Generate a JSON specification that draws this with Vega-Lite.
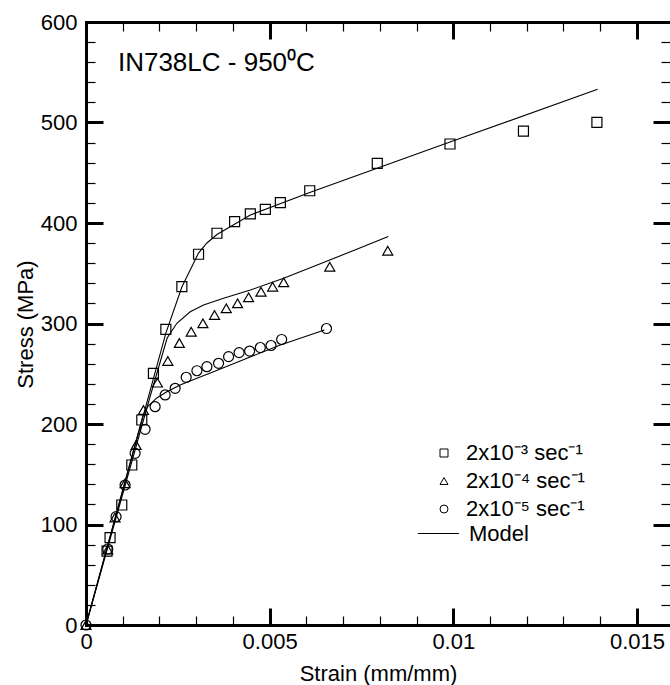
{
  "$schema": "https://vega.github.io/schema/vega-lite/v6.json",
  "width": 584,
  "height": 603,
  "autosize": {"type": "none"},
  "padding": {"left": 86, "top": 22, "right": 0, "bottom": 60},
  "background": "white",
  "config": {
    "view": {"stroke": null},
    "font": "Liberation Sans",
    "axis": {
      "grid": false,
      "domainColor": "black",
      "domainWidth": 3,
      "domainCap": "square",
      "tickColor": "black",
      "labelColor": "black",
      "titleColor": "black",
      "labelFont": "Liberation Sans",
      "labelFontSize": 22,
      "titleFont": "Liberation Sans",
      "titleFontSize": 22,
      "titleFontWeight": "normal",
      "labelFlush": false,
      "labelOverlap": false,
      "tickCount": 1000
    },
    "legend": {
      "labelFont": "Liberation Sans",
      "labelFontSize": 22,
      "labelColor": "black",
      "labelLimit": 0,
      "padding": 0,
      "rowPadding": 6
    }
  },
  "datasets": {
    "pts": [
      {"rate": "2x10⁻³ sec⁻¹", "strain": 0.000573, "stress": 73.6},
      {"rate": "2x10⁻³ sec⁻¹", "strain": 0.000655, "stress": 86.9},
      {"rate": "2x10⁻³ sec⁻¹", "strain": 0.000974, "stress": 119.4},
      {"rate": "2x10⁻³ sec⁻¹", "strain": 0.001247, "stress": 159.2},
      {"rate": "2x10⁻³ sec⁻¹", "strain": 0.001519, "stress": 204.0},
      {"rate": "2x10⁻³ sec⁻¹", "strain": 0.001836, "stress": 250.4},
      {"rate": "2x10⁻³ sec⁻¹", "strain": 0.002174, "stress": 294.2},
      {"rate": "2x10⁻³ sec⁻¹", "strain": 0.00261, "stress": 336.6},
      {"rate": "2x10⁻³ sec⁻¹", "strain": 0.003064, "stress": 368.9},
      {"rate": "2x10⁻³ sec⁻¹", "strain": 0.003565, "stress": 389.8},
      {"rate": "2x10⁻³ sec⁻¹", "strain": 0.004046, "stress": 401.3},
      {"rate": "2x10⁻³ sec⁻¹", "strain": 0.004474, "stress": 409.0},
      {"rate": "2x10⁻³ sec⁻¹", "strain": 0.004883, "stress": 413.6},
      {"rate": "2x10⁻³ sec⁻¹", "strain": 0.005292, "stress": 420.2},
      {"rate": "2x10⁻³ sec⁻¹", "strain": 0.006091, "stress": 432.1},
      {"rate": "2x10⁻³ sec⁻¹", "strain": 0.00793, "stress": 459.4},
      {"rate": "2x10⁻³ sec⁻¹", "strain": 0.00991, "stress": 478.6},
      {"rate": "2x10⁻³ sec⁻¹", "strain": 0.01191, "stress": 491.5},
      {"rate": "2x10⁻³ sec⁻¹", "strain": 0.01391, "stress": 500.2},
      {"rate": "2x10⁻⁴ sec⁻¹", "strain": 0, "stress": 0},
      {"rate": "2x10⁻⁴ sec⁻¹", "strain": 0.000592, "stress": 75.1},
      {"rate": "2x10⁻⁴ sec⁻¹", "strain": 0.000791, "stress": 107.0},
      {"rate": "2x10⁻⁴ sec⁻¹", "strain": 0.001064, "stress": 141.0},
      {"rate": "2x10⁻⁴ sec⁻¹", "strain": 0.001364, "stress": 179.1},
      {"rate": "2x10⁻⁴ sec⁻¹", "strain": 0.001563, "stress": 213.9},
      {"rate": "2x10⁻⁴ sec⁻¹", "strain": 0.001945, "stress": 241.1},
      {"rate": "2x10⁻⁴ sec⁻¹", "strain": 0.002229, "stress": 262.7},
      {"rate": "2x10⁻⁴ sec⁻¹", "strain": 0.002542, "stress": 280.6},
      {"rate": "2x10⁻⁴ sec⁻¹", "strain": 0.002864, "stress": 291.8},
      {"rate": "2x10⁻⁴ sec⁻¹", "strain": 0.003183, "stress": 300.2},
      {"rate": "2x10⁻⁴ sec⁻¹", "strain": 0.0035, "stress": 308.5},
      {"rate": "2x10⁻⁴ sec⁻¹", "strain": 0.003819, "stress": 315.1},
      {"rate": "2x10⁻⁴ sec⁻¹", "strain": 0.004127, "stress": 320.1},
      {"rate": "2x10⁻⁴ sec⁻¹", "strain": 0.004427, "stress": 326.1},
      {"rate": "2x10⁻⁴ sec⁻¹", "strain": 0.004765, "stress": 331.6},
      {"rate": "2x10⁻⁴ sec⁻¹", "strain": 0.005082, "stress": 336.6},
      {"rate": "2x10⁻⁴ sec⁻¹", "strain": 0.005382, "stress": 341.0},
      {"rate": "2x10⁻⁴ sec⁻¹", "strain": 0.006637, "stress": 356.5},
      {"rate": "2x10⁻⁴ sec⁻¹", "strain": 0.008216, "stress": 372.4},
      {"rate": "2x10⁻⁵ sec⁻¹", "strain": 0, "stress": 0},
      {"rate": "2x10⁻⁵ sec⁻¹", "strain": 0.000592, "stress": 75.6},
      {"rate": "2x10⁻⁵ sec⁻¹", "strain": 0.000818, "stress": 107.8},
      {"rate": "2x10⁻⁵ sec⁻¹", "strain": 0.001064, "stress": 139.3},
      {"rate": "2x10⁻⁵ sec⁻¹", "strain": 0.001337, "stress": 170.8},
      {"rate": "2x10⁻⁵ sec⁻¹", "strain": 0.001609, "stress": 194.7},
      {"rate": "2x10⁻⁵ sec⁻¹", "strain": 0.001882, "stress": 217.2},
      {"rate": "2x10⁻⁵ sec⁻¹", "strain": 0.002155, "stress": 228.9},
      {"rate": "2x10⁻⁵ sec⁻¹", "strain": 0.002428, "stress": 235.5},
      {"rate": "2x10⁻⁵ sec⁻¹", "strain": 0.002728, "stress": 246.5},
      {"rate": "2x10⁻⁵ sec⁻¹", "strain": 0.00302, "stress": 253.0},
      {"rate": "2x10⁻⁵ sec⁻¹", "strain": 0.003292, "stress": 257.0},
      {"rate": "2x10⁻⁵ sec⁻¹", "strain": 0.003609, "stress": 260.4},
      {"rate": "2x10⁻⁵ sec⁻¹", "strain": 0.003882, "stress": 267.0},
      {"rate": "2x10⁻⁵ sec⁻¹", "strain": 0.004168, "stress": 271.0},
      {"rate": "2x10⁻⁵ sec⁻¹", "strain": 0.004455, "stress": 272.6},
      {"rate": "2x10⁻⁵ sec⁻¹", "strain": 0.004746, "stress": 276.1},
      {"rate": "2x10⁻⁵ sec⁻¹", "strain": 0.005038, "stress": 278.1},
      {"rate": "2x10⁻⁵ sec⁻¹", "strain": 0.005327, "stress": 284.1},
      {"rate": "2x10⁻⁵ sec⁻¹", "strain": 0.006547, "stress": 295.0}
    ],
    "model": [
      {"curve": "m3", "strain": 0, "stress": 0},
      {"curve": "m3", "strain": 0.002174, "stress": 290.5},
      {"curve": "m3", "strain": 0.00261, "stress": 336.3},
      {"curve": "m3", "strain": 0.003063, "stress": 370.1},
      {"curve": "m3", "strain": 0.003292, "stress": 380.1},
      {"curve": "m3", "strain": 0.003565, "stress": 388.6},
      {"curve": "m3", "strain": 0.004474, "stress": 408.0},
      {"curve": "m3", "strain": 0.00611, "stress": 430.5},
      {"curve": "m3", "strain": 0.00991, "stress": 480.5},
      {"curve": "m3", "strain": 0.01393, "stress": 533.0},
      {"curve": "m4", "strain": 0, "stress": 0},
      {"curve": "m4", "strain": 0.001718, "stress": 223.9},
      {"curve": "m4", "strain": 0.002019, "stress": 261.7},
      {"curve": "m4", "strain": 0.00221, "stress": 285.6},
      {"curve": "m4", "strain": 0.002474, "stress": 300.2},
      {"curve": "m4", "strain": 0.002837, "stress": 311.7},
      {"curve": "m4", "strain": 0.0032, "stress": 318.4},
      {"curve": "m4", "strain": 0.003745, "stress": 325.1},
      {"curve": "m4", "strain": 0.004474, "stress": 333.3},
      {"curve": "m4", "strain": 0.005382, "stress": 345.0},
      {"curve": "m4", "strain": 0.006293, "stress": 358.2},
      {"curve": "m4", "strain": 0.007201, "stress": 371.4},
      {"curve": "m4", "strain": 0.00823, "stress": 386.6},
      {"curve": "m5", "strain": 0, "stress": 0},
      {"curve": "m5", "strain": 0.001555, "stress": 209.0},
      {"curve": "m5", "strain": 0.001691, "stress": 217.9},
      {"curve": "m5", "strain": 0.001929, "stress": 225.9},
      {"curve": "m5", "strain": 0.002201, "stress": 232.1},
      {"curve": "m5", "strain": 0.002564, "stress": 238.8},
      {"curve": "m5", "strain": 0.00302, "stress": 245.5},
      {"curve": "m5", "strain": 0.003472, "stress": 252.0},
      {"curve": "m5", "strain": 0.004384, "stress": 265.4},
      {"curve": "m5", "strain": 0.005292, "stress": 278.6},
      {"curve": "m5", "strain": 0.006492, "stress": 293.5}
    ],
    "label": [
      {"text": "IN738LC - 950⁰C"}
    ]
  },
  "layer": [
    {
      "layer": [
        {
          "data": {"name": "model"},
          "mark": {"type": "line", "strokeWidth": 1.1},
          "encoding": {
            "x": {
              "field": "strain", "type": "quantitative",
              "scale": {"domain": [0, 0.0159], "nice": false, "zero": false},
              "axis": {
                "orient": "bottom",
                "values": [0, 0.005, 0.01, 0.015],
                "labelExpr": "toString(datum.value)",
                "ticks": false,
                "labelPadding": 6,
                "title": "Strain (mm/mm)",
                "titleY": 55,
                "titleBaseline": "alphabetic"
              }
            },
            "y": {
              "field": "stress", "type": "quantitative",
              "scale": {"domain": [0, 600], "nice": false, "zero": false},
              "axis": {
                "orient": "left",
                "values": [0, 100, 200, 300, 400, 500, 600],
                "labelExpr": "toString(datum.value)",
                "ticks": false,
                "labelPadding": 9,
                "title": "Stress (MPa)",
                "titleX": -54,
                "titleY": 302,
                "titleAngle": -90,
                "titleAlign": "center",
                "titleBaseline": "alphabetic"
              }
            },
            "detail": {"field": "curve"},
            "color": {
              "datum": "Model", "type": "nominal",
              "scale": {"domain": ["Model"], "range": ["black"]},
              "legend": {
                "orient": "none",
                "legendX": 331,
                "legendY": 490,
                "title": null,
                "symbolType": "stroke",
                "symbolSize": 1700,
                "symbolStrokeWidth": 1,
                "symbolStrokeColor": "black",
                "labelOffset": 9
              }
            }
          }
        },
        {
          "data": {"name": "pts"},
          "mark": {"type": "point", "filled": false, "stroke": "black", "strokeWidth": 1.2, "size": 100, "opacity": 1},
          "encoding": {
            "x": {"field": "strain", "type": "quantitative"},
            "y": {"field": "stress", "type": "quantitative"},
            "shape": {
              "field": "rate", "type": "nominal",
              "scale": {
                "domain": ["2x10⁻³ sec⁻¹", "2x10⁻⁴ sec⁻¹", "2x10⁻⁵ sec⁻¹"],
                "range": ["square", "triangle-up", "circle"]
              },
              "legend": {
                "orient": "none",
                "legendX": 347,
                "legendY": 420,
                "title": null,
                "labelOffset": 11,
                "symbolSize": 64,
                "symbolStrokeColor": "black",
                "symbolStrokeWidth": 1,
                "symbolFillColor": "transparent",
                "symbolOpacity": 1
              }
            }
          }
        },
        {
          "data": {"name": "label"},
          "mark": {"type": "text", "align": "left", "baseline": "alphabetic", "fontSize": 26, "font": "Liberation Sans", "color": "black"},
          "encoding": {
            "x": {"datum": 0.00087, "type": "quantitative"},
            "y": {"datum": 551.5, "type": "quantitative"},
            "text": {"field": "text"}
          }
        }
      ]
    },
    {
      "data": {"name": "pts"},
      "mark": {"type": "point", "opacity": 0},
      "encoding": {
        "x": {
          "field": "strain", "type": "quantitative",
          "scale": {"domain": [0, 0.0159], "nice": false, "zero": false},
          "axis": {
            "orient": "top",
            "values": [0, 0.001, 0.002, 0.003, 0.004, 0.005, 0.006, 0.007, 0.008, 0.009, 0.01, 0.011, 0.012, 0.013, 0.014, 0.015],
            "labels": false,
            "title": null,
            "tickSize": {"condition": {"test": "indexof([0, 0.005, 0.01, 0.015], datum.value) >= 0", "value": -17}, "value": -9},
            "tickWidth": {"condition": {"test": "indexof([0, 0.005, 0.01, 0.015], datum.value) >= 0", "value": 3}, "value": 1.2}
          }
        },
        "y": {
          "field": "stress", "type": "quantitative",
          "scale": {"domain": [0, 600], "nice": false, "zero": false},
          "axis": {
            "orient": "right",
            "values": [0, 20, 40, 60, 80, 100, 120, 140, 160, 180, 200, 220, 240, 260, 280, 300, 320, 340, 360, 380, 400, 420, 440, 460, 480, 500, 520, 540, 560, 580, 600],
            "labels": false,
            "domain": false,
            "title": null,
            "tickSize": {"condition": {"test": "datum.value % 100 === 0", "value": -17}, "value": -9},
            "tickWidth": {"condition": {"test": "datum.value % 100 === 0", "value": 3}, "value": 1.2}
          }
        }
      }
    },
    {
      "data": {"name": "pts"},
      "mark": {"type": "point", "opacity": 0},
      "encoding": {
        "x": {
          "field": "strain", "type": "quantitative",
          "scale": {"domain": [0, 0.0159], "nice": false, "zero": false},
          "axis": {
            "orient": "bottom",
            "values": [0, 0.001, 0.002, 0.003, 0.004, 0.005, 0.006, 0.007, 0.008, 0.009, 0.01, 0.011, 0.012, 0.013, 0.014, 0.015],
            "labels": false,
            "domain": false,
            "title": null,
            "tickSize": {"condition": {"test": "indexof([0, 0.005, 0.01, 0.015], datum.value) >= 0", "value": -17}, "value": -9},
            "tickWidth": {"condition": {"test": "indexof([0, 0.005, 0.01, 0.015], datum.value) >= 0", "value": 3}, "value": 1.2}
          }
        },
        "y": {
          "field": "stress", "type": "quantitative",
          "scale": {"domain": [0, 600], "nice": false, "zero": false},
          "axis": {
            "orient": "left",
            "values": [0, 20, 40, 60, 80, 100, 120, 140, 160, 180, 200, 220, 240, 260, 280, 300, 320, 340, 360, 380, 400, 420, 440, 460, 480, 500, 520, 540, 560, 580, 600],
            "labels": false,
            "domain": false,
            "title": null,
            "tickSize": {"condition": {"test": "datum.value % 100 === 0", "value": -17}, "value": -9},
            "tickWidth": {"condition": {"test": "datum.value % 100 === 0", "value": 3}, "value": 1.2}
          }
        }
      }
    }
  ],
  "resolve": {"scale": {"x": "independent", "y": "independent"}}
}
